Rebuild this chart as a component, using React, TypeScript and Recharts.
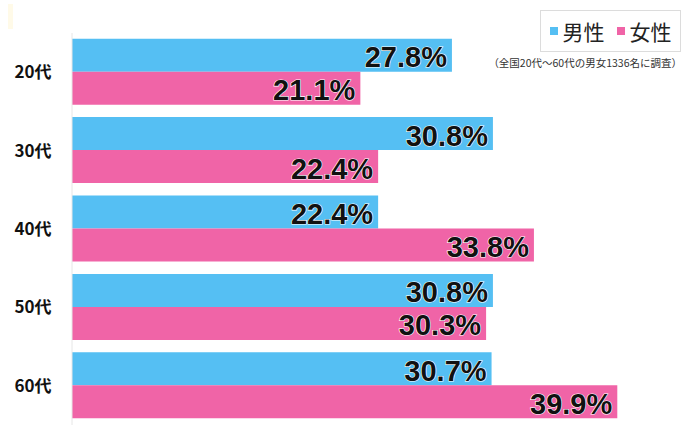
import { BarChart, Bar, XAxis, YAxis, LabelList } from "recharts";

const ages = ["20代", "30代", "40代", "50代", "60代"];
const male = [27.8, 30.8, 22.4, 30.8, 30.7];
const female = [21.1, 22.4, 33.8, 30.3, 39.9];
const note = "（全国20代〜60代の男女1336名に調査）";

const data = ages.map((age, i) => ({ age, male: male[i], female: female[i] }));

const BLUE = "#55bff3";
const PINK = "#f064a7";
const FONT = "'Liberation Sans', Arial, 'Noto Sans CJK JP', sans-serif";

const ValueLabel = (props: any) => {
  const { x, y, width, height, value } = props;
  return (
    <text
      x={x + width - 5}
      y={y + height / 2 + 12}
      textAnchor="end"
      fontFamily={FONT}
      fontWeight="bold"
      fontSize={29}
      fill="#111"
      stroke="#fff"
      strokeWidth={1.2}
      paintOrder="stroke"
    >
      {value.toFixed(1)}%
    </text>
  );
};

const AgeTick = (props: any) => {
  const { y, payload } = props;
  return (
    <text
      x={33}
      y={y + 6}
      textAnchor="middle"
      fontFamily="'Noto Sans CJK JP', sans-serif"
      fontWeight="bold"
      fontSize={17}
      fill="#111"
    >
      {payload.value}
    </text>
  );
};

const LegendBox = () => (
  <div style={{ position: "absolute", right: 0, top: 10, width: 200, height: 60, fontFamily: "'Noto Sans CJK JP', sans-serif" }}>
    <div
      style={{
        position: "absolute",
        right: 9,
        top: 0,
        width: 139,
        height: 40,
        border: "1px solid #dcdcdc",
        display: "flex",
        alignItems: "center",
        justifyContent: "center",
        gap: 12,
        fontSize: 21,
        color: "#222",
      }}
    >
      {[
        { name: "男性", color: BLUE },
        { name: "女性", color: PINK },
      ].map((s) => (
        <span key={s.name} style={{ display: "flex", alignItems: "center" }}>
          <span style={{ width: 8, height: 8, background: s.color, marginRight: 5 }} />
          {s.name}
        </span>
      ))}
    </div>
    <div
      style={{
        position: "absolute",
        right: 8,
        top: 45,
        fontSize: 10.5,
        color: "#333",
        whiteSpace: "nowrap",
      }}
    >
      {note}
    </div>
  </div>
);

export default function App() {
  return (
    <div style={{ position: "fixed", left: 0, top: 0, width: 690, height: 438, background: "#fff" }}>
      <div style={{ position: "absolute", left: 8, top: 4, width: 5, height: 25, background: "#fffae8" }} />
      <BarChart
        width={690}
        height={438}
        data={data}
        layout="vertical"
        margin={{ top: 33, right: 3, bottom: 13, left: 0 }}
        barCategoryGap="7.3%"
        barGap={0}
      >
        <XAxis type="number" domain={[0, 45]} hide />
        <YAxis
          type="category"
          dataKey="age"
          width={72}
          tickLine={false}
          axisLine={{ stroke: "#e6e6e6" }}
          tick={<AgeTick />}
        />
        <Bar dataKey="male" name="男性" fill={BLUE} isAnimationActive={false}>
          <LabelList dataKey="male" content={<ValueLabel />} />
        </Bar>
        <Bar dataKey="female" name="女性" fill={PINK} isAnimationActive={false}>
          <LabelList dataKey="female" content={<ValueLabel />} />
        </Bar>
      </BarChart>
      <LegendBox />
    </div>
  );
}
